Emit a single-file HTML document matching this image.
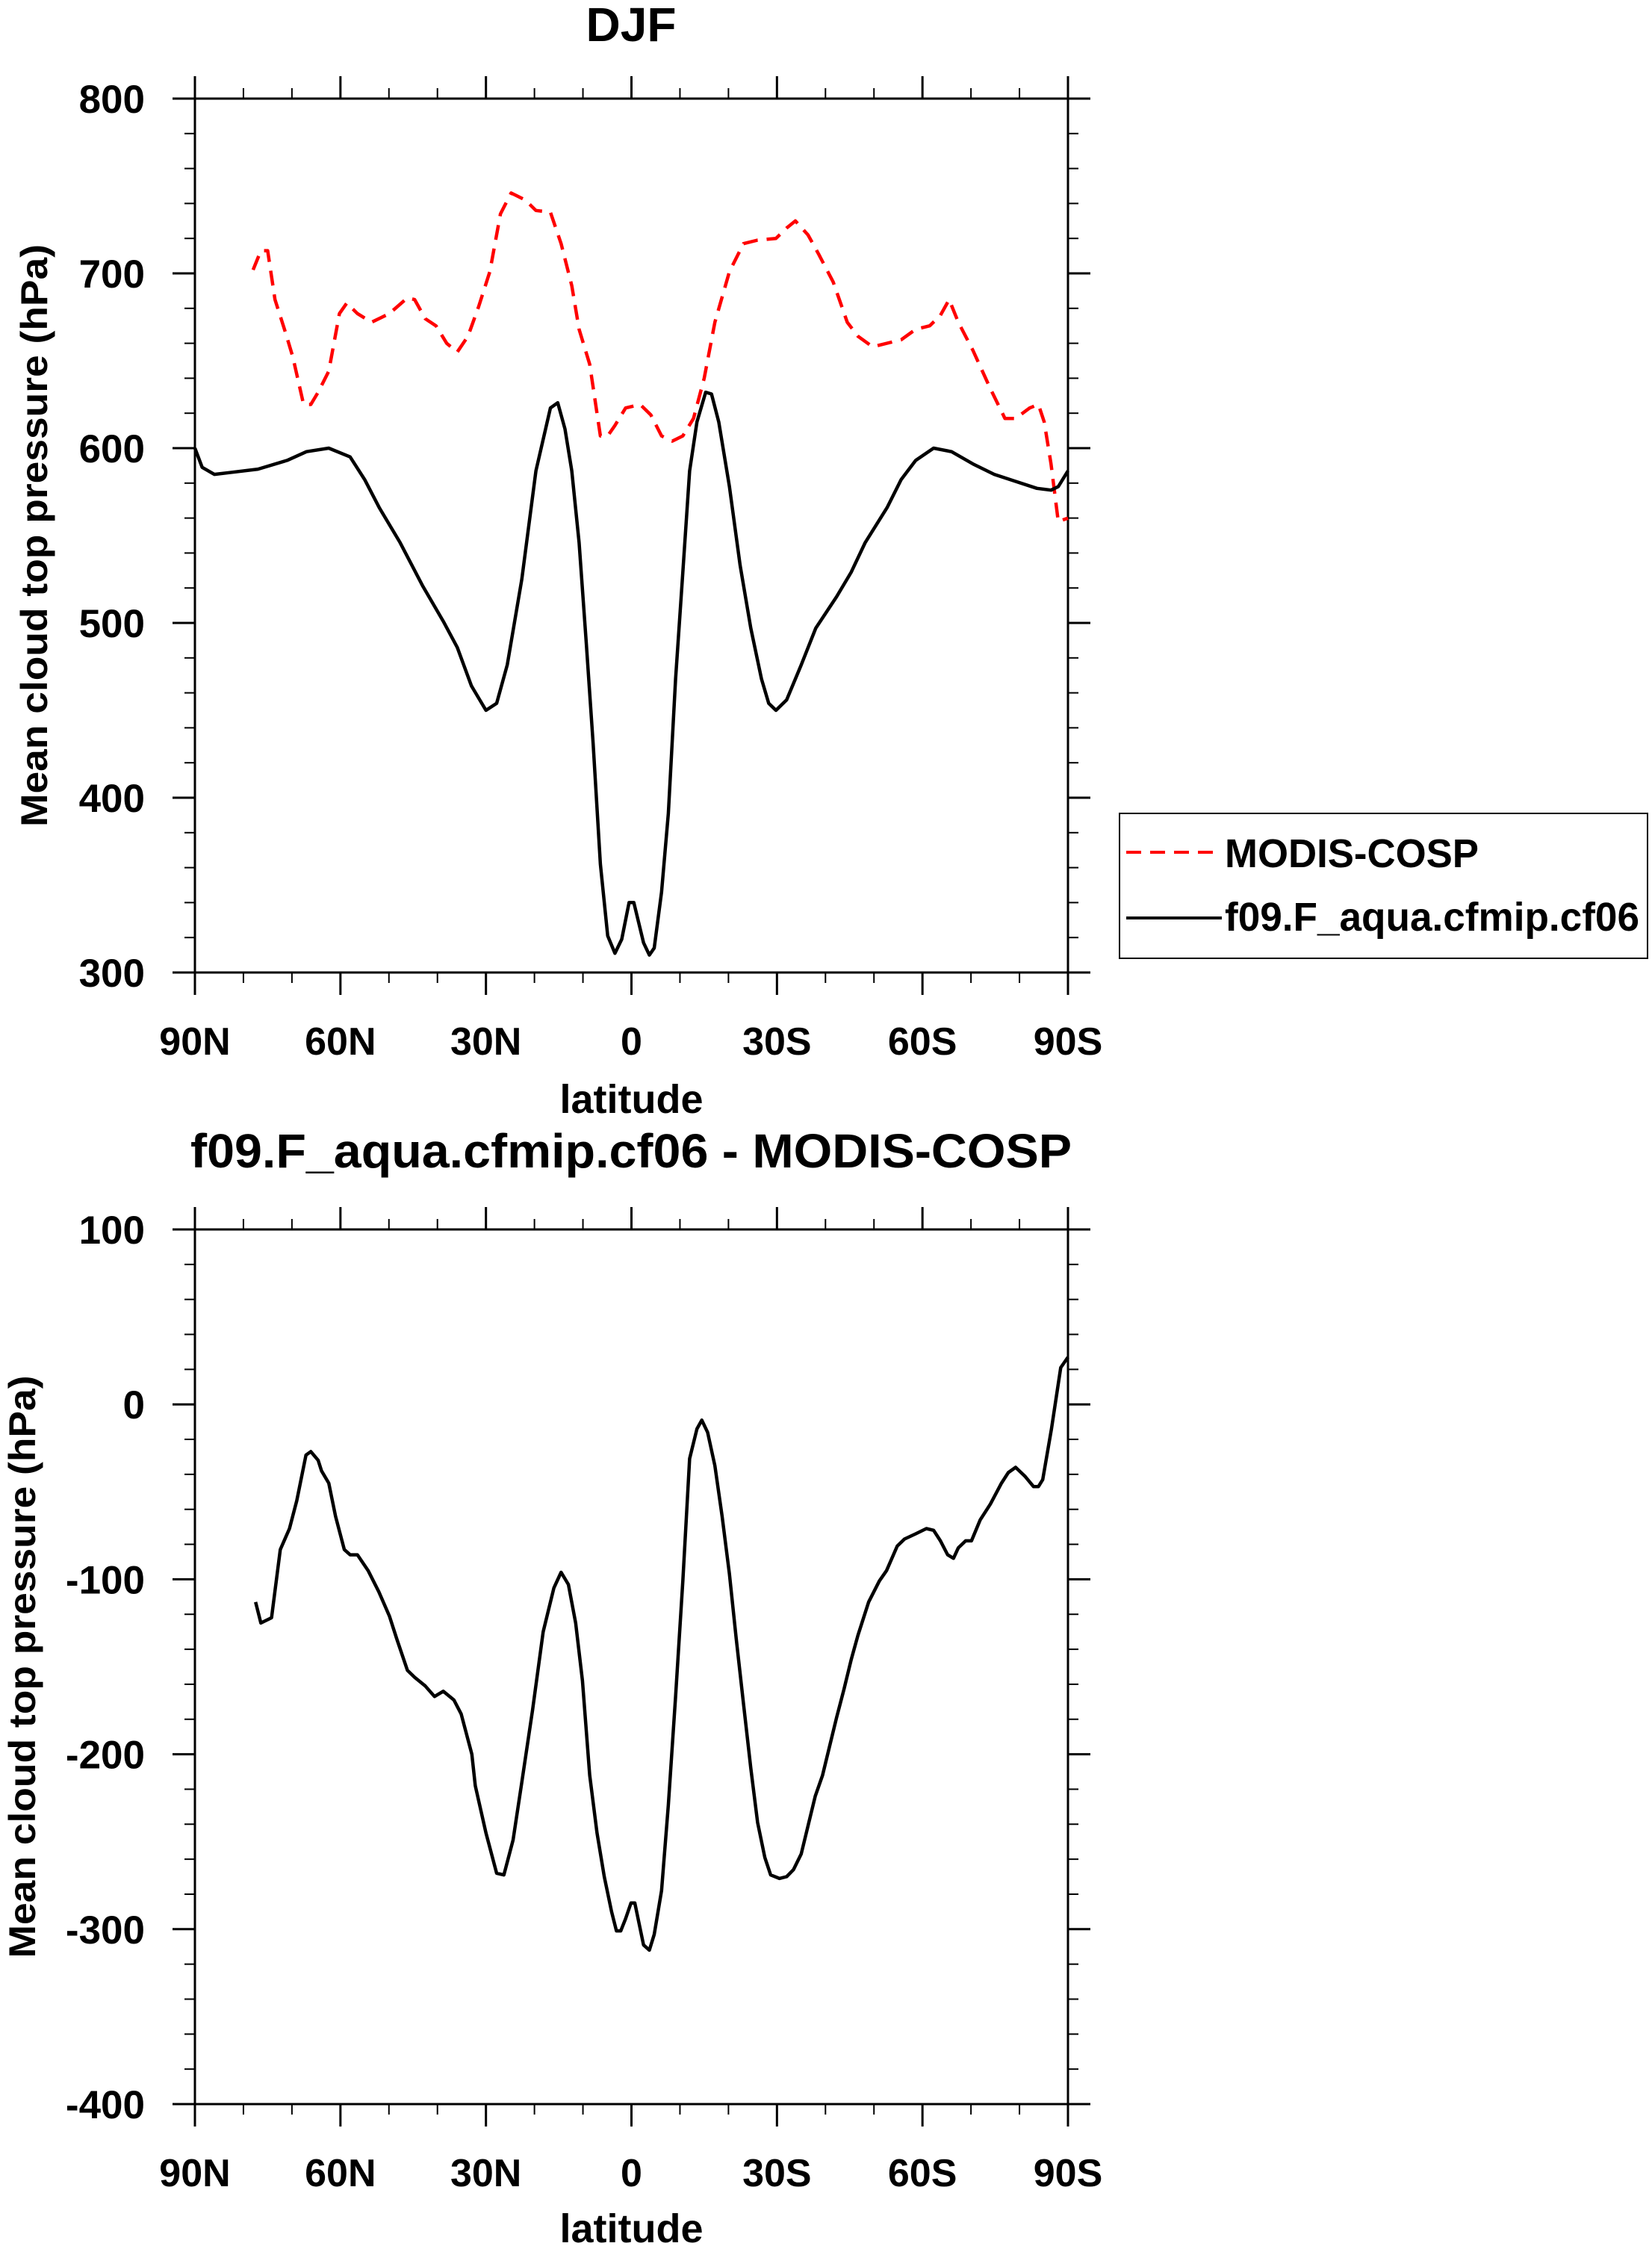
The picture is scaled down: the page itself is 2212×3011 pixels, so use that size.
<!DOCTYPE html>
<html><head><meta charset="utf-8"><style>
html,body{margin:0;padding:0;background:#fff;}
svg{display:block;font-family:"Liberation Sans",Arial,sans-serif;font-weight:bold;}
</style></head><body>
<svg id="chart" width="2212" height="3011" viewBox="0 0 2212 3011" xmlns="http://www.w3.org/2000/svg">
<text x="845" y="55" font-size="64" text-anchor="middle">DJF</text>
<text x="845" y="1563" font-size="64" text-anchor="middle" textLength="1180" lengthAdjust="spacingAndGlyphs">f09.F_aqua.cfmip.cf06 - MODIS-COSP</text>
<g id="top"></g>
<g id="bot"></g>
<g>
<rect x="1499" y="1089" width="707" height="194" fill="none" stroke="#000" stroke-width="2"/>
<line x1="1508" y1="1141" x2="1636" y2="1141" stroke="#f00" stroke-width="4" stroke-dasharray="20 12"/>
<text x="1640" y="1161" font-size="54" textLength="340" lengthAdjust="spacingAndGlyphs">MODIS-COSP</text>
<line x1="1508" y1="1229" x2="1636" y2="1229" stroke="#000" stroke-width="4"/>
<text x="1640" y="1246" font-size="54" textLength="555" lengthAdjust="spacingAndGlyphs">f09.F_aqua.cfmip.cf06</text>
</g>
</svg>
<script>
const xTickLats = [90,60,30,0,-30,-60,-90];
const xTickLabels = ["90N","60N","30N","0","30S","60S","90S"];
const topYTicks = [300,400,500,600,700,800];
const botYTicks = [-400,-300,-200,-100,0,100];
const modelLat = [90,88.5,86,83,77,71,67,62.4,58,55,52,47.7,43,38.8,35.9,33,30,27.8,25.6,22.6,19.7,16.7,15.2,13.7,12.3,10.8,9.3,7.9,6.4,4.9,3.4,2,0.5,-0.5,-2.5,-3.7,-4.7,-6.2,-7.6,-9.1,-10.6,-12,-13.5,-15.3,-16.5,-18,-20.2,-22.4,-24.6,-26.8,-28.3,-29.8,-32,-35,-38,-42.3,-45.3,-48.2,-52.7,-55.6,-58.6,-62.3,-66,-70.4,-74.8,-79.2,-83.6,-86.5,-88,-90];
const modelVal = [600,589,585,586,588,593,598,600,595,582,566,546,521,501,486,464,450,454,476,525,587,623,626,611,587,546,488,431,362,321,311,319,340,340,317,310,314,346,391,468,529,587,615,632,631,615,578,533,497,468,454,450,456,476,497,515,529,546,566,582,593,600,598,591,585,581,577,576,578,587];
const obsLat = [78,76.4,75,73.5,71.3,69.8,67.6,66.1,64.6,62.4,60.2,58.7,56.5,53.6,49.9,46.2,44.7,42.5,40.3,38.1,35.9,33.7,31.5,29.2,27,24.8,21.9,19.7,16.7,14.5,12.3,10.8,8.6,6.4,4.9,3.4,1.2,-1.8,-4,-6.2,-8.4,-10.6,-12.8,-15,-17.2,-20.2,-23.1,-26,-29.8,-32,-33.8,-36.4,-38.6,-41.6,-44.5,-46.7,-49.7,-55.6,-58.6,-61.5,-63.7,-65.5,-67.4,-70.4,-74,-77,-79.2,-82.1,-83.9,-85.1,-86.5,-88,-90];
const obsVal = [702,713,713,685,666,652,625,625,632,644,677,683,677,672,677,686,685,674,670,660,655,664,681,701,734,746,742,736,735,717,693,668,648,607,607,613,623,625,619,607,604,607,617,640,672,701,717,719,720,726,730,722,711,695,672,664,658,662,668,670,676,685,672,656,634,617,617,623,625,615,591,558,560];
const diffLat = [77.5,76.4,74.2,72.4,70.5,69,67.1,66.1,64.6,63.9,62.4,61,59.2,58,56.5,54.3,52.1,49.9,48.4,46.2,44.7,42.5,40.6,38.8,36.6,35.1,32.9,32.2,30,27.8,26.3,24.4,22.6,20.4,18.2,16,14.5,13,11.5,10.1,8.6,7.1,5.6,4.1,3.1,2.2,1.2,0.1,-0.7,-2.5,-3.7,-4.7,-6.2,-7.6,-9.1,-10.6,-12,-13.5,-14.5,-15.7,-17.2,-18.7,-20.2,-21.6,-23.1,-24.6,-26,-27.5,-28.7,-30.5,-32,-33.4,-35,-36.4,-37.9,-39.4,-40.8,-42.3,-43.8,-45.3,-46.7,-48.9,-51.1,-52.6,-54.8,-56.3,-58.6,-60.8,-62.3,-63.7,-65.2,-66.4,-67.4,-68.9,-70.1,-71.9,-74,-76.3,-77.7,-79.2,-81.1,-82.9,-83.9,-84.8,-86.6,-88.5,-90];
const diffVal = [-113,-125,-122,-83,-71,-55,-29,-27,-32,-38,-45,-64,-83,-86,-86,-95,-107,-121,-134,-152,-156,-161,-167,-164,-169,-177,-200,-218,-245,-268,-269,-249,-216,-175,-130,-105,-96,-103,-125,-158,-212,-245,-270,-290,-301,-301,-294,-285,-285,-309,-312,-303,-278,-229,-167,-101,-31,-14,-9,-16,-35,-64,-97,-134,-171,-208,-239,-259,-269,-271,-270,-266,-257,-241,-224,-212,-196,-179,-163,-146,-132,-113,-101,-95,-81,-77,-74,-71,-72,-78,-86,-88,-82,-78,-78,-66,-57,-45,-39,-36,-41,-47,-47,-43,-14,21,27];

const NS = "http://www.w3.org/2000/svg";
function mk(tag, attrs, parent){
  const e = document.createElementNS(NS, tag);
  for (const k in attrs) e.setAttribute(k, attrs[k]);
  parent.appendChild(e); return e;
}
function panel(g, top, bottom, ymin, ymax, yTicks, yMinorStep, yTitleX, xLabY, latY){
  const L = 261, R = 1430;
  const sx = lat => L + (90 - lat) / 180 * (R - L);
  const sy = v => bottom - (v - ymin) / (ymax - ymin) * (bottom - top);
  for (let lat = 90; lat >= -90; lat -= 10) {
    if (lat % 30 === 0) continue;
    const x = sx(lat);
    const t1 = mk('line', {x1:x, y1:top, x2:x, y2:top-14, stroke:'#000','stroke-width':2}, g);
    
    
    const t2 = mk('line', {x1:x, y1:bottom, x2:x, y2:bottom+14, stroke:'#000','stroke-width':2}, g);
    
    
  }
  for (let v = ymin; v <= ymax; v += yMinorStep) {
    if (yTicks.includes(v)) continue;
    const y = sy(v);
    const t1 = mk('line', {x1:L, y1:y, x2:L-14, y2:y, stroke:'#000','stroke-width':2}, g);
    
    
    const t2 = mk('line', {x1:R, y1:y, x2:R+14, y2:y, stroke:'#000','stroke-width':2}, g);
    
    
  }
  xTickLats.forEach((lat, i) => {
    const x = sx(lat);
    const t1 = mk('line', {x1:x, y1:top, x2:x, y2:top-30, stroke:'#000','stroke-width':3}, g);
    
    
    const t2 = mk('line', {x1:x, y1:bottom, x2:x, y2:bottom+30, stroke:'#000','stroke-width':3}, g);
    
    
    const tx = mk('text', {x:x, y:xLabY, 'font-size':52, 'text-anchor':'middle'}, g);
    tx.textContent = xTickLabels[i];
    
    
  });
  yTicks.forEach(v => {
    const y = sy(v);
    const t1 = mk('line', {x1:L, y1:y, x2:L-30, y2:y, stroke:'#000','stroke-width':3}, g);
    
    
    const t2 = mk('line', {x1:R, y1:y, x2:R+30, y2:y, stroke:'#000','stroke-width':3}, g);
    
    
    const tx = mk('text', {x:194, y:y+19, 'font-size':53, 'text-anchor':'end'}, g);
    tx.textContent = String(v);
    
    
  });
  const fr = mk('rect', {x:L, y:top, width:R-L, height:bottom-top, fill:'none', stroke:'#000', 'stroke-width':3}, g);
  
  
  const xt = mk('text', {x:(L+R)/2, y:latY, 'font-size':54, 'text-anchor':'middle'}, g);
  xt.textContent = 'latitude';
  
  
  const cy = (top+bottom)/2;
  const yt = mk('text', {x:yTitleX, y:cy, 'font-size':50, 'text-anchor':'middle', transform:`rotate(-90 ${yTitleX} ${cy})`, dy:18, textLength:780, lengthAdjust:'spacingAndGlyphs'}, g);
  yt.textContent = 'Mean cloud top pressure (hPa)';
  
  
  return {sx, sy};
}
function line(g, s, lats, vals, color, dash, name){
  const d = lats.map((la, i) => (i ? 'L' : 'M') + s.sx(la).toFixed(1) + ' ' + s.sy(vals[i]).toFixed(1)).join(' ');
  const p = mk('path', {d:d, fill:'none', stroke:color, 'stroke-width':4.5, 'stroke-linejoin':'round'}, g);
  if (dash) p.setAttribute('stroke-dasharray', dash);
  
  
}
const gt = document.getElementById('top');
const st = panel(gt, 132, 1302, 300, 800, topYTicks, 20, 45, 1412, 1490);
line(gt, st, obsLat, obsVal, '#f00', '20 12', 'obs-line-modis-cosp');
line(gt, st, modelLat, modelVal, '#000', null, 'model-line-f09');
const gb = document.getElementById('bot');
const sb = panel(gb, 1646, 2817, -400, 100, botYTicks, 20, 29, 2927, 3002);
line(gb, sb, diffLat, diffVal, '#000', null, 'difference-line');
</script>
</body></html>
